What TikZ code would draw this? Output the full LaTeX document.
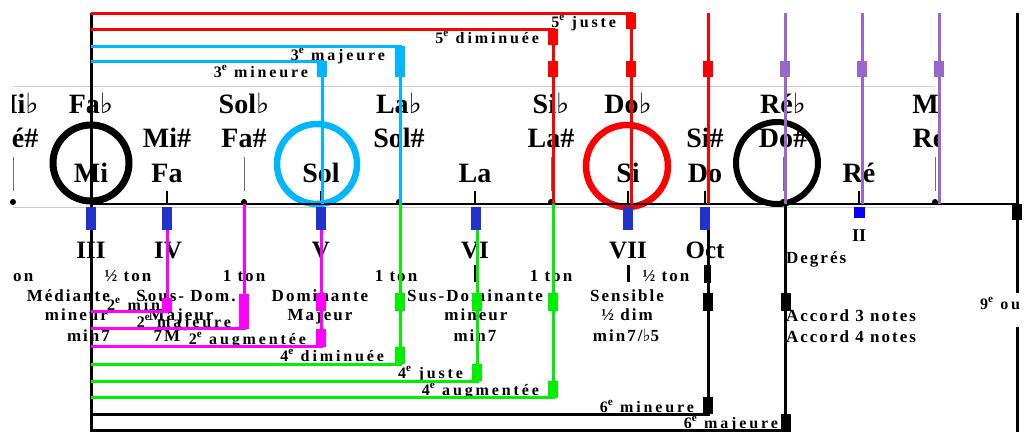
\documentclass[tikz,border=0pt]{standalone}
\usepackage{fontspec}
\setmainfont{Liberation Serif}
\newfontfamily\spcf[LetterSpace=12]{Liberation Serif}
\newfontfamily\ivlf[LetterSpace=18]{Liberation Serif}
\newfontfamily\symf{DejaVu Sans}
\newcommand\fl{{\symf\mdseries\char"266D}}
\definecolor{cred}{RGB}{255,0,0}
\definecolor{ccyan}{RGB}{0,183,255}
\definecolor{cpurp}{RGB}{153,102,204}
\definecolor{cmag}{RGB}{255,0,255}
\definecolor{cgrn}{RGB}{0,240,0}
\definecolor{cblue}{RGB}{34,51,204}
\definecolor{cgray}{RGB}{205,205,205}
\definecolor{ctick}{RGB}{110,110,110}
\begin{document}
\begin{tikzpicture}[x=1pt,y=-1pt,
  every node/.style={inner sep=0pt,outer sep=0pt},
  lnk/.style={line width=3pt},
  sqr/.style={fill=#1,minimum width=10pt,minimum height=16pt},
  bsq/.style={fill=cblue,minimum width=10pt,minimum height=23pt},
  notef/.style={font=\bfseries\fontsize{28}{30}\selectfont,anchor=base},
  romf/.style={font=\bfseries\fontsize{25}{27}\selectfont,anchor=base},
  lblf/.style={font=\spcf\bfseries\fontsize{17}{19}\selectfont,anchor=base},
  ivf/.style={font=\ivlf\bfseries\fontsize{16}{18}\selectfont,anchor=base east},
  tickb/.style={line width=2.8pt},
  tickg/.style={line width=1pt,draw=ctick},
  dotn/.style={circle,fill=black,minimum size=6pt},
  ring/.style={circle,draw=#1,line width=6pt,fill=none},
]
\useasboundingbox (0,0) rectangle (1029,432);

% grey frame lines
\coordinate (gTL) at (13,86); \coordinate (gTR) at (935,86);
\coordinate (gBL) at (13,207); \coordinate (gBR) at (935,207);
\draw[cgray,line width=1pt] (gTL) -- (gTR);
\draw[cgray,line width=1pt] (gBL) -- (gBR);

% note names
\begin{scope}
\clip (12,80) rectangle (938,200);
\node[notef] (aMibL) at (15,113) {Mi\fl};
\node[notef] (aFab) at (91,113) {Fa\fl};
\node[notef] (aSolb) at (244,113) {Sol\fl};
\node[notef] (aLab) at (399,113) {La\fl};
\node[notef] (aSib) at (551,113) {Si\fl};
\node[notef] (aDob) at (628,113) {Do\fl};
\node[notef] (aReb) at (783,113) {Ré\fl};
\node[notef] (aMibR) at (936,113) {Mi\fl};
\node[notef] (bResL) at (15,147) {Ré\#};
\node[notef] (bMis) at (167,147) {Mi\#};
\node[notef] (bFas) at (244,147) {Fa\#};
\node[notef] (bSols) at (399,147) {Sol\#};
\node[notef] (bLas) at (551,147) {La\#};
\node[notef] (bSis) at (705,147) {Si\#};
\node[notef] (bDos) at (783,147) {Do\#};
\node[notef] (bResR) at (936,147) {Ré\#};
\node[notef] (cMi) at (91,182) {Mi};
\node[notef] (cFa) at (167,182) {Fa};
\node[notef] (cSol) at (321,182) {Sol};
\node[notef] (cLa) at (475,182) {La};
\node[notef] (cSi) at (628,182) {Si};
\node[notef] (cDo) at (705,182) {Do};
\node[notef] (cRe) at (859,182) {Ré};
\end{scope}

% ticks above the staff
\foreach \x/\n in {13/a,244/b,399/c,551/d,783/e,935/f}{
  \coordinate (gt\n1) at (\x,157); \coordinate (gt\n2) at (\x,191);
  \draw[tickg] (gt\n1) -- (gt\n2);
  \node[dotn] (dot\n) at (\x,202) {};
}
\foreach \x/\n in {167/a,321/b,475/c,628/d,705/e,859/f}{
  \coordinate (bt\n1) at (\x,191); \coordinate (bt\n2) at (\x,204);
  \draw[tickb] (bt\n1) -- (bt\n2);
}

% circles
\node[ring=black,minimum size=76pt,line width=7pt] (oMi) at (91,163) {};
\node[ring=ccyan,minimum size=80pt,line width=6.5pt] (oSol) at (317,164) {};
\node[ring=cred,minimum size=82pt,line width=6.5pt] (oSi) at (627,166) {};
\node[ring=black,minimum size=82pt] (oDos) at (777,163) {};

% degree numerals and labels
\node[romf] (dIII) at (91,258) {III};
\node[romf] (dIV) at (168,258) {IV};
\node[romf] (dV) at (321,258) {V};
\node[romf] (dVI) at (475,258) {VI};
\node[romf] (dVII) at (628,258) {VII};
\node[romf] (dOct) at (705,258) {Oct};
\node[font=\bfseries\fontsize{18}{20}\selectfont,anchor=base] (dII) at (859,241) {II};
\node[lblf,anchor=base west] (tDeg) at (786,263) {Degrés};

\begin{scope}
\clip (12,255) rectangle (100,290);
\node[lblf] (t0) at (12,281) {1 ton};
\end{scope}
\node[lblf] (t1) at (128,281) {½ ton};
\node[lblf] (t2) at (244,281) {1 ton};
\node[lblf] (t3) at (396,281) {1 ton};
\node[lblf] (t4) at (551,281) {1 ton};
\node[lblf] (t5) at (666,281) {½ ton};

\node[lblf,anchor=base east] (nMed) at (110,301) {Médiante};
\node[lblf,anchor=base east] (nMed2) at (108,320) {mineur};
\node[lblf,anchor=base east] (nMed3) at (110,341) {min7};
\node[lblf] (nSD) at (186,301) {Sous- Dom.};
\node[lblf] (nSD2) at (181,320) {Majeur};
\node[lblf] (nSD3) at (167,341) {7M};
\node[lblf] (nDom) at (320,301) {Dominante};
\node[lblf] (nDom2) at (320,320) {Majeur};
\node[lblf] (nDom3) at (320,341) {7};
\node[lblf] (nSus) at (475,301) {Sus-Dominante};
\node[lblf] (nSus2) at (476,320) {mineur};
\node[lblf] (nSus3) at (475,341) {min7};
\node[lblf] (nSen) at (627,301) {Sensible};
\node[lblf] (nSen2) at (627,320) {½ dim};
\node[lblf] (nSen3) at (626,341) {min7/\fl5};
\node[lblf,anchor=base west] (nAc3) at (786,321) {Accord 3 notes};
\node[lblf,anchor=base west] (nAc4) at (786,342) {Accord 4 notes};

% interval labels
\node[ivf] (i5j) at (616,27) {5\textsuperscript{e} juste};
\node[ivf] (i5d) at (539,43) {5\textsuperscript{e} diminuée};
\node[ivf] (i3M) at (385,60) {3\textsuperscript{e} majeure};
\node[ivf] (i3m) at (308,77) {3\textsuperscript{e} mineure};
\node[ivf] (i2m) at (160,310) {2\textsuperscript{e} min};
\node[ivf] (i2M) at (231,327) {2\textsuperscript{e} majeure};
\node[ivf] (i2a) at (306,344) {2\textsuperscript{e} augmentée};
\node[ivf] (i4d) at (384,361) {4\textsuperscript{e} diminuée};
\node[ivf] (i4j) at (463,378) {4\textsuperscript{e} juste};
\node[ivf] (i4a) at (539,395) {4\textsuperscript{e} augmentée};
\node[ivf] (i6m) at (694,412) {6\textsuperscript{e} mineure};
\node[ivf] (i6M) at (778,428) {6\textsuperscript{e} majeure};
\node[ivf,anchor=base west] (i9) at (980,309) {9\textsuperscript{e} ou};

% main lines
\coordinate (mTop) at (91,13); \coordinate (mBot) at (91,432);
\draw[lnk] (mTop) -- (mBot);
\coordinate (sL) at (91,204); \coordinate (sR) at (1017,204);
\draw[line width=2.8pt] (sL) -- (sR);
\coordinate (kA) at (1017,13); \coordinate (kB) at (1017,293);
\coordinate (kC) at (1017,327); \coordinate (kD) at (1017,432);
\draw[lnk] (kA) -- (kB); \draw[lnk] (kC) -- (kD);
\node[sqr=black] (qK) at (1017,212) {};

% ticks below numerals
\foreach \x/\n in {167/a,321/b,475/c,628/d}{
  \coordinate (ut\n1) at (\x,265); \coordinate (ut\n2) at (\x,282);
  \draw[line width=3pt] (ut\n1) -- (ut\n2);
}

% upper intervals (red, cyan, purple)
\coordinate (r1a) at (91,13); \coordinate (r1b) at (631,13); \coordinate (r1c) at (631,204);
\draw[lnk,cred,line join=miter] (r1a) -- (r1b) -- (r1c);
\coordinate (r2a) at (91,29); \coordinate (r2b) at (553,29); \coordinate (r2c) at (553,204);
\draw[lnk,cred,line join=miter] (r2a) -- (r2b) -- (r2c);
\coordinate (r3a) at (708,13); \coordinate (r3b) at (708,204);
\draw[lnk,cred] (r3a) -- (r3b);
\node[sqr=cred] (qr1) at (631,21) {};
\node[sqr=cred] (qr1b) at (631,69) {};
\node[sqr=cred] (qr2) at (553,37) {};
\node[sqr=cred] (qr2b) at (553,69) {};
\node[sqr=cred] (qr3) at (708,69) {};

\coordinate (c1a) at (91,46); \coordinate (c1b) at (400,46); \coordinate (c1c) at (400,204);
\draw[lnk,ccyan,line join=miter] (c1a) -- (c1b) -- (c1c);
\coordinate (c2a) at (91,61); \coordinate (c2b) at (322,61); \coordinate (c2c) at (322,204);
\draw[lnk,ccyan,line join=miter] (c2a) -- (c2b) -- (c2c);
\node[sqr=ccyan,minimum height=31pt] (qc1) at (400,61.5) {};
\node[sqr=ccyan] (qc2) at (322,69) {};

\foreach \x/\n in {785/a,862/b,939/c}{
  \coordinate (p\n1) at (\x,13); \coordinate (p\n2) at (\x,204);
  \draw[lnk,cpurp] (p\n1) -- (p\n2);
  \node[sqr=cpurp] (qp\n) at (\x,69) {};
}

% lower intervals (magenta)
\coordinate (m1a) at (167,230); \coordinate (m1b) at (167,311); \coordinate (m1c) at (91,311);
\draw[lnk,cmag,line join=miter] (m1a) -- (m1b) -- (m1c);
\coordinate (m2a) at (244,204); \coordinate (m2b) at (244,328); \coordinate (m2c) at (91,328);
\draw[lnk,cmag,line join=miter] (m2a) -- (m2b) -- (m2c);
\coordinate (m3a) at (321,230); \coordinate (m3b) at (321,346); \coordinate (m3c) at (91,346);
\draw[lnk,cmag,line join=miter] (m3a) -- (m3b) -- (m3c);
\node[sqr=cmag,minimum height=14pt] (qm1) at (167,305) {};
\node[sqr=cmag,minimum height=35pt] (qm2) at (244,311) {};
\node[sqr=cmag,minimum height=18pt] (qm3) at (321,302) {};
\node[sqr=cmag,minimum height=18pt] (qm3b) at (321,338) {};

% lower intervals (green)
\coordinate (g1a) at (400,204); \coordinate (g1b) at (400,364); \coordinate (g1c) at (91,364);
\draw[lnk,cgrn,line join=miter] (g1a) -- (g1b) -- (g1c);
\coordinate (g2a) at (477,230); \coordinate (g2b) at (477,381); \coordinate (g2c) at (91,381);
\draw[lnk,cgrn,line join=miter] (g2a) -- (g2b) -- (g2c);
\coordinate (g3a) at (553,204); \coordinate (g3b) at (553,397); \coordinate (g3c) at (91,397);
\draw[lnk,cgrn,line join=miter] (g3a) -- (g3b) -- (g3c);
\node[sqr=cgrn,minimum height=18pt] (qg1) at (400,302) {};
\node[sqr=cgrn,minimum height=17pt] (qg1b) at (400,355.5) {};
\node[sqr=cgrn,minimum height=18pt] (qg2) at (477,302) {};
\node[sqr=cgrn,minimum height=17pt] (qg2b) at (477,372.5) {};
\node[sqr=cgrn,minimum height=18pt] (qg3) at (553,302) {};
\node[sqr=cgrn,minimum height=17pt] (qg3b) at (553,389) {};

% lower intervals (black)
\coordinate (k1a) at (708,230); \coordinate (k1b) at (708,414); \coordinate (k1c) at (91,414);
\draw[lnk,line join=miter] (k1a) -- (k1b) -- (k1c);
\coordinate (k2a) at (785,204); \coordinate (k2b) at (785,430); \coordinate (k2c) at (91,430);
\draw[lnk,line join=miter] (k2a) -- (k2b) -- (k2c);
\node[sqr=black,minimum width=7pt,minimum height=18pt] (qk1a) at (707,274) {};
\node[sqr=black,minimum height=18pt] (qk1b) at (708,302) {};
\node[sqr=black,minimum height=17pt] (qk1c) at (708,405.5) {};
\node[sqr=black,minimum height=18pt] (qk2a) at (786,302) {};
\node[sqr=black,minimum height=18pt] (qk2b) at (786,423) {};

% degree markers
\foreach \x/\n in {91/a,167/b,321/c,476/d,628/e,705/f}{
  \node[bsq] (deg\n) at (\x,218.5) {};
}
\node[fill=blue,minimum width=11pt,minimum height=11pt] (degII) at (859.5,212.5) {};
\end{tikzpicture}
\end{document}
